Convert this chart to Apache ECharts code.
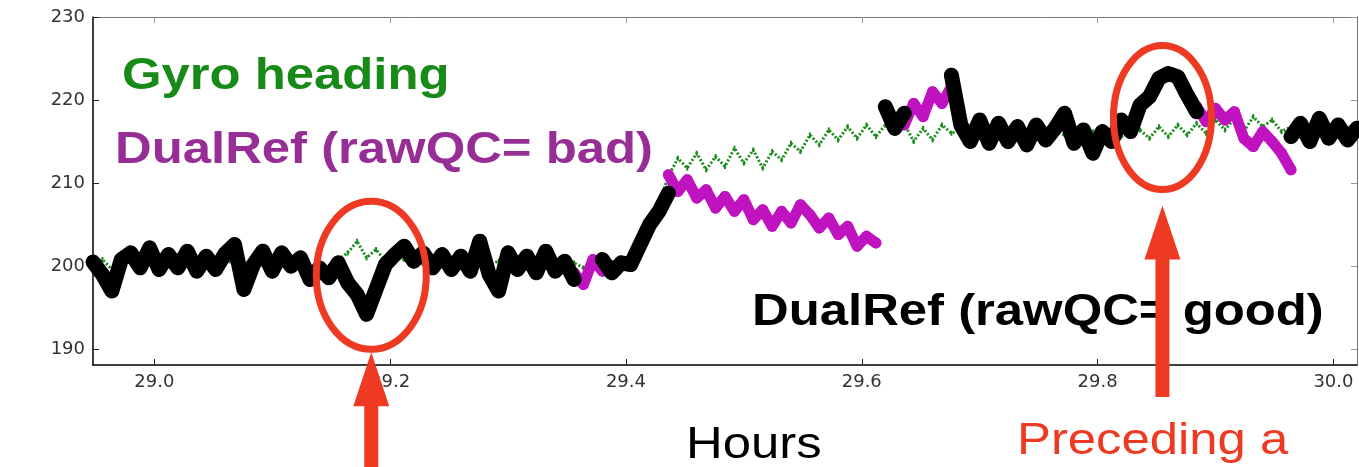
<!DOCTYPE html>
<html>
<head>
<meta charset="utf-8">
<style>
html, body { margin: 0; padding: 0; background: #fff; }
#chart { width: 1359px; height: 467px; }
</style>
<script src="https://cdn.jsdelivr.net/npm/echarts@6/dist/echarts.min.js"></script>
</head>
<body>
<div id="chart"></div>
<script>
// samples are every 0.008 h starting at the left edge of the plot
const startHour = 28.948
const hourStep = 0.008
const hourTicks = [29.0, 29.2, 29.4, 29.6, 29.8, 30.0]
const headingTicks = [190, 200, 210, 220, 230]

const gyro = [
	200.2, 200.8, 199.6, 200.6, 201.0, 200.0, 200.8, 200.4, 201.0, 200.2,
	200.6, 200.0, 200.8, 200.2, 200.6, 200.4, 200.0, 200.6, 200.2, 200.8,
	200.4, 200.0, 200.6, 199.8, 200.2, 200.0, 200.8, 201.6, 203.0, 201.0,
	202.0, 200.6, 201.2, 200.8, 200.4, 201.0, 200.2, 200.8, 200.4, 200.6,
	200.0, 200.8, 200.2, 200.6, 200.0, 200.8, 200.2, 200.6, 200.0, 200.4,
	200.0, 200.4, 199.8, 200.4, 200.0, 200.4, 200.2, 200.6, 202.4, 205.2,
	207.6, 210.8, 213.0, 211.8, 213.6, 211.6, 213.2, 212.0, 214.2, 212.4,
	214.0, 211.8, 213.8, 212.8, 214.8, 213.8, 215.8, 214.6, 216.4, 215.2,
	216.8, 215.4, 217.0, 215.6, 217.0, 216.0, 217.2, 215.0, 216.6, 215.2,
	217.0, 216.0, 216.4, 215.6, 216.2, 215.8, 216.4, 215.6, 216.2, 215.8,
	216.4, 215.6, 216.2, 215.8, 216.4, 215.6, 216.2, 215.8, 216.4, 215.6,
	216.2, 216.4, 215.4, 216.8, 215.6, 217.0, 215.8, 217.2, 216.0, 217.6,
	216.4, 217.8, 216.2, 218.0, 216.8, 217.6, 216.2, 216.8, 216.2, 216.6,
	216.0, 216.4, 216.2, 216.6, 216.2
]

const dualRefBad = [
	null, null, null, null, null, null, null, null, null, null,
	null, null, null, null, null, null, null, null, null, null,
	null, null, null, null, null, null, null, null, null, null,
	null, null, null, null, null, null, null, null, null, null,
	null, null, null, null, null, null, null, null, null, null,
	null, 199.2, 197.8, 200.8, 199.4, null, null, null, null, null,
	null, 211.0, 209.0, 210.4, 208.2, 209.2, 207.0, 208.4, 206.6, 208.0,
	205.6, 206.8, 204.8, 206.6, 205.2, 207.4, 206.2, 204.6, 205.8, 203.8,
	204.8, 202.4, 203.6, 202.8, null, null, 217.0, 219.6, 218.0, 221.0,
	219.6, 221.6, null, null, null, null, null, null, null, null,
	null, null, null, null, null, null, null, null, null, null,
	null, null, null, null, null, null, null, 219.2, 217.4, 219.0,
	217.6, 218.6, 215.4, 214.4, 216.2, 215.0, 213.6, 211.6, null, null,
	null, null, null, null, null
]

const dualRefGood = [
	200.5, 199.0, 197.0, 200.8, 201.6, 199.8, 202.2, 199.6, 201.4, 199.8,
	201.8, 199.4, 201.2, 199.6, 201.5, 202.6, 197.2, 200.2, 201.8, 199.4,
	201.6, 200.0, 201.0, 198.4, 199.8, 198.6, 200.4, 198.0, 196.6, 194.2,
	197.2, 200.2, 201.4, 202.4, 200.6, 201.6, 199.8, 201.4, 199.6, 201.2,
	199.4, 203.0, 199.0, 197.0, 201.6, 199.6, 201.2, 199.2, 201.8, 199.4,
	200.6, 198.4, null, null, 200.8, 199.2, 200.4, 200.2, 202.6, 205.0,
	206.6, 208.8, null, null, null, null, null, null, null, null,
	null, null, null, null, null, null, null, null, null, null,
	null, null, null, null, 219.2, 216.6, 218.4, null, null, null,
	null, 223.0, 217.0, 215.0, 217.6, 214.8, 217.2, 215.0, 216.8, 214.6,
	217.0, 215.2, 216.6, 218.4, 214.8, 216.4, 213.6, 216.2, 215.0, 217.6,
	216.2, 219.4, 220.4, 222.6, 223.2, 222.8, 220.6, 218.6, null, null,
	null, null, null, null, null, null, null, 215.6, 217.2, 215.0,
	217.8, 215.4, 217.0, 215.2, 216.6
]

// spots the slide circles, in hours / degrees
const circledSpots = [[29.184, 198.9], [29.855, 217.9]]

function pairs(values) {
	return values.map((v, i) => [+(startHour + i * hourStep).toFixed(3), v])
}

const tickFont = {fontFamily: "DejaVu Sans", fontSize: 18, color: "#333"}
const red = "#ee3a22"

let chart = echarts.init(document.getElementById("chart"))

let option = {
	animation: false,
	grid: {left: 93, right: 2, top: 17, bottom: 102},
	xAxis: [
		{
			type: "value", min: 28.948, max: 30.02, position: "bottom",
			axisLine: {onZero: false, lineStyle: {color: "#000", width: 1.5}},
			axisTick: {inside: true, length: 6, customValues: hourTicks, lineStyle: {color: "#222"}},
			axisLabel: Object.assign({customValues: hourTicks, margin: 8, formatter: v => v.toFixed(1)}, tickFont),
			splitLine: {show: false}
		},
		{
			type: "value", min: 28.948, max: 30.02, position: "top",
			axisLine: {onZero: false, lineStyle: {color: "#777", width: 1}},
			axisTick: {inside: true, length: 6, customValues: hourTicks, lineStyle: {color: "#999"}},
			axisLabel: {show: false},
			splitLine: {show: false}
		}
	],
	yAxis: [
		{
			type: "value", min: 188.1, max: 230, position: "left",
			axisLine: {show: true, onZero: false, lineStyle: {color: "#000", width: 1.5}},
			axisTick: {show: true, inside: true, length: 6, customValues: headingTicks, lineStyle: {color: "#222"}},
			axisLabel: Object.assign({customValues: headingTicks, margin: 8}, tickFont),
			splitLine: {show: false}
		},
		{
			type: "value", min: 188.1, max: 230, position: "right",
			axisLine: {show: true, onZero: false, lineStyle: {color: "#777", width: 1}},
			axisTick: {show: true, inside: true, length: 6, customValues: headingTicks, lineStyle: {color: "#999"}},
			axisLabel: {show: false},
			splitLine: {show: false}
		}
	],
	series: [
		{
			name: "Gyro heading", type: "line", data: pairs(gyro),
			symbol: "rect", symbolSize: [2, 5], itemStyle: {color: "#1a8c1a"},
			lineStyle: {color: "#1a8c1a", width: 3, type: [2, 2]}, z: 2
		},
		{
			name: "DualRef (rawQC= bad)", type: "line", data: pairs(dualRefBad),
			symbol: "circle", symbolSize: 11, itemStyle: {color: "#c013c0"},
			lineStyle: {color: "#c013c0", width: 11, join: "round", cap: "round"}, z: 3
		},
		{
			name: "DualRef (rawQC= good)", type: "line", data: pairs(dualRefGood),
			symbol: "circle", symbolSize: 14, itemStyle: {color: "#000"},
			lineStyle: {color: "#000", width: 15, join: "round", cap: "round"}, z: 4
		}
	]
}
chart.setOption(option)

function label(text, x, y, size, color, bold) {
	return {
		type: "text", x: x, y: y, scaleX: 1.155, z: 50,
		style: {
			text: text, fill: color, fontSize: size, fontWeight: bold ? "bold" : "normal",
			fontFamily: "Liberation Sans, Arial, sans-serif", align: "left", verticalAlign: "middle"
		}
	}
}

function arrow(x, tipY, bottomY) {
	return {
		type: "polygon", z: 60,
		shape: {points: [[x, tipY], [x + 18, tipY + 54], [x + 7, tipY + 54], [x + 7, bottomY],
			[x - 7, bottomY], [x - 7, tipY + 54], [x - 18, tipY + 54]]},
		style: {fill: red}
	}
}

let c1 = chart.convertToPixel({xAxisIndex: 0, yAxisIndex: 0}, circledSpots[0])
let c2 = chart.convertToPixel({xAxisIndex: 0, yAxisIndex: 0}, circledSpots[1])

chart.setOption({
	graphic: [
		label("Gyro heading", 122, 77, 44, "#178a17", true),
		label("DualRef (rawQC= bad)", 115, 151, 44, "#962e96", true),
		label("DualRef (rawQC= good)", 752, 313, 44, "#000", true),
		label("Hours", 686, 446, 44, "#000", false),
		label("Preceding a", 1017, 442, 44, red, false),
		{type: "ellipse", z: 55, shape: {cx: c1[0], cy: c1[1], rx: 55, ry: 74},
			style: {fill: null, stroke: red, lineWidth: 7}},
		{type: "ellipse", z: 55, shape: {cx: c2[0], cy: c2[1], rx: 49, ry: 72},
			style: {fill: null, stroke: red, lineWidth: 7}},
		arrow(c1[0], c1[1] + 77, 470),
		arrow(c2[0], c2[1] + 88, 397)
	]
})

window.onresize = chart.resize
</script>
</body>
</html>
